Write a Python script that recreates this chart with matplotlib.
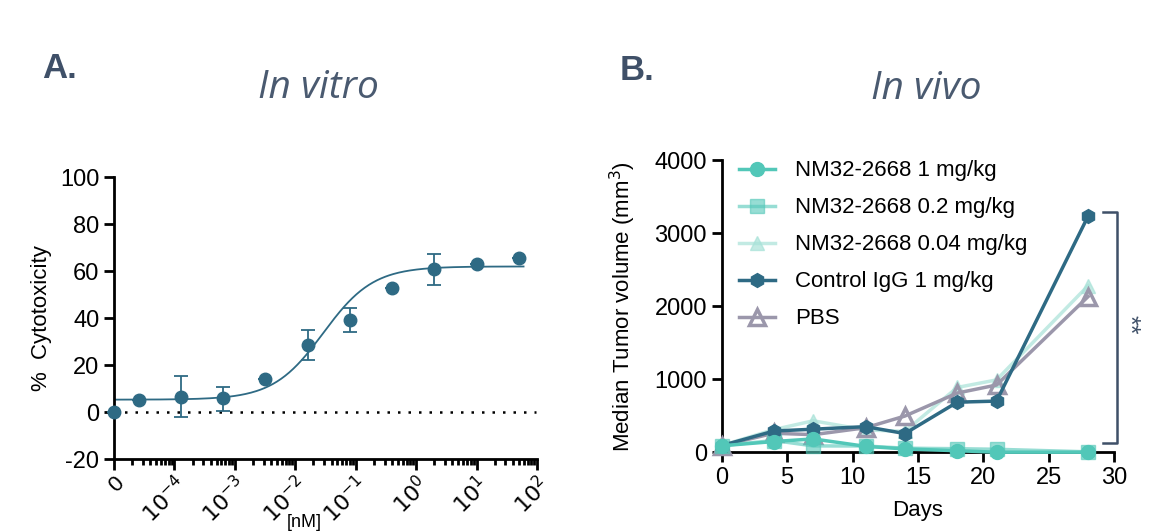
import numpy as np
import matplotlib.pyplot as plt
from matplotlib.ticker import LogLocator, NullFormatter, FixedLocator, FixedFormatter

# ---- panel A data (in vitro) ----
conc = [0, 2.56e-5, 1.28e-4, 6.4e-4, 3.2e-3, 0.016, 0.08, 0.4, 2, 10, 50]
cyto = [0.0, 5.0, 6.5, 5.8, 13.9, 28.5, 39.1, 52.8, 60.9, 63.0, 65.4]
err_up = [0, 0, 8.8, 5.0, 0, 6.3, 5.2, 0, 6.5, 0, 0]
err_dn = [0, 0, 8.6, 5.2, 0, 6.5, 5.1, 0, 6.7, 0, 0]
# fitted 4PL curve parameters
fit_bottom, fit_top, fit_ec50, fit_hill = 5.3, 62.0, 0.029, 1.05
zero_pos = 1e-5  # where "0" sits on the log axis

# ---- panel B data (in vivo) ----
days = [0, 4, 7, 11, 14, 18, 21, 28]
g_1mg = [88, 146, 182, 80, 45, 20, 0, 0]
g_02mg = [90, 160, 86, 85, 55, 48, 40, 5]
g_004mg = [92, 310, 430, 305, 285, 887, 990, 2282]
g_igg = [90, 290, 315, 350, 255, 685, 700, 3235]
g_pbs = [90, 260, 240, 335, 495, 810, 920, 2132]

dark = '#2e6a84'
slate = '#3f5068'

plt.rcParams['font.family'] = ['Liberation Sans', 'DejaVu Sans']
plt.rcParams['axes.unicode_minus'] = False

fig = plt.figure(figsize=(11.62, 5.32), dpi=100)

# ================= panel A =================
ax1 = fig.add_axes([0.0981, 0.137, 0.364, 0.530])
xs = [zero_pos if c == 0 else c for c in conc]
ax1.set_xscale('log')
ax1.set_xlim(1e-5, 100)
ax1.set_ylim(-20, 100)

xx = np.logspace(-5, np.log10(60), 300)
yy = fit_bottom + (fit_top - fit_bottom) / (1 + (fit_ec50 / xx) ** fit_hill)
ax1.plot(xx, yy, color=dark, lw=1.3, zorder=2)
ax1.plot([1e-5, 95], [0, 0], color='black', lw=1.8, ls=(0, (1, 3.2)), zorder=1)
ax1.errorbar(xs, cyto, yerr=[err_dn, err_up], fmt='o', color=dark, ms=9,
             ecolor=dark, elinewidth=1.3, capsize=5, capthick=1.3, zorder=3,
             clip_on=False)

ax1.spines['top'].set_visible(False)
ax1.spines['right'].set_visible(False)
for s in ['left', 'bottom']:
    ax1.spines[s].set_linewidth(2)
ax1.set_yticks(range(-20, 101, 20))
ax1.tick_params(axis='y', labelsize=17, width=2, length=7)
ax1.xaxis.set_major_locator(FixedLocator([10.0 ** k for k in range(-5, 3)]))
ax1.xaxis.set_major_formatter(FixedFormatter(
    ['0'] + ['$10^{%d}$' % k for k in range(-4, 3)]))
ax1.xaxis.set_minor_locator(LogLocator(base=10, subs=np.arange(2, 10), numticks=20))
ax1.xaxis.set_minor_formatter(NullFormatter())
ax1.tick_params(axis='x', which='major', labelsize=16, width=2, length=8, pad=2)
ax1.tick_params(axis='x', which='minor', width=2, length=4)
for lab in ax1.get_xticklabels():
    lab.set_rotation(45)
    lab.set_ha('right')
    lab.set_va('top')
    lab.set_rotation_mode('anchor')
ax1.set_ylabel('%  Cytotoxicity', fontsize=16, labelpad=6)
fig.text(0.262, 0.002, '[nM]', fontsize=13, ha='center', va='bottom')

# ================= panel B =================
ax2 = fig.add_axes([0.621, 0.150, 0.338, 0.549])
ax2.set_xlim(0, 30)
ax2.set_ylim(0, 4000)
ax2.plot(days, g_1mg, '-o', color='#52c7b8', lw=2.5, ms=10, label='NM32-2668 1 mg/kg',
         clip_on=False, zorder=5)
ax2.plot(days, g_02mg, '-s', color='#52c7b8', alpha=0.6, lw=2.5, ms=10,
         label='NM32-2668 0.2 mg/kg', clip_on=False, zorder=4)
ax2.plot(days, g_004mg, '-^', color='#a8e2d8', alpha=0.7, lw=2.5, ms=10,
         label='NM32-2668 0.04 mg/kg', clip_on=False, zorder=2)
ax2.plot(days, g_igg, '-h', color=dark, lw=2.5, ms=10, label='Control IgG 1 mg/kg',
         clip_on=False, zorder=4)
ax2.plot(days, g_pbs, '-^', color='#9b97ab', mfc='none', mew=2.5, lw=2.5, ms=11,
         label='PBS', clip_on=False, zorder=3)

ax2.spines['top'].set_visible(False)
ax2.spines['right'].set_visible(False)
for s in ['left', 'bottom']:
    ax2.spines[s].set_linewidth(2)
ax2.set_xticks(range(0, 31, 5))
ax2.set_yticks(range(0, 4001, 1000))
ax2.tick_params(labelsize=17, width=2, length=7)
ax2.set_xlabel('Days', fontsize=16, labelpad=8)
ax2.set_ylabel('Median Tumor volume (mm$^3$)', fontsize=16, labelpad=12)
leg = ax2.legend(loc='upper left', bbox_to_anchor=(0.0, 1.06), frameon=False,
                 fontsize=16, handlelength=1.6, labelspacing=0.72, borderaxespad=0.4,
                 handletextpad=0.9)

# significance bracket
ax2.plot([29.1, 30.2, 30.2, 29.1], [3290, 3290, 125, 125], color=slate, lw=1.8,
         clip_on=False)
ax2.text(31.1, 1750, '**', rotation=270, color=slate, fontsize=18,
         ha='center', va='center')

# panel letters and titles
fig.text(0.036, 0.872, 'A.', fontsize=25, fontweight='bold', color=slate,
         ha='left', va='center')
fig.text(0.533, 0.868, 'B.', fontsize=25, fontweight='bold', color=slate,
         ha='left', va='center')
fig.text(0.274, 0.834, 'In vitro', fontsize=28, style='italic', color='#4a5a70',
         ha='center', va='center', family=['Open Sans', 'DejaVu Sans'])
fig.text(0.797, 0.832, 'In vivo', fontsize=28, style='italic', color='#4a5a70',
         ha='center', va='center', family=['Open Sans', 'DejaVu Sans'])

fig.savefig('out.png', dpi=100)
